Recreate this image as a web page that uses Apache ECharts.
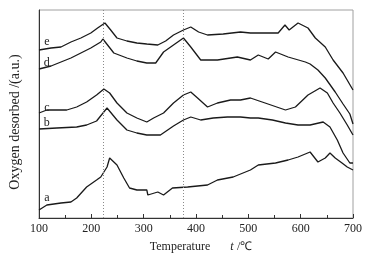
<!DOCTYPE html>
<html>
<head>
<meta charset="utf-8">
<script src="https://cdn.jsdelivr.net/npm/echarts@6/dist/echarts.min.js"></script>
<style>
  html, body { margin: 0; padding: 0; background: #fff; }
  #chart { width: 378px; height: 262px; }
</style>
</head>
<body>
<div id="chart"></div>
<script>
// temperature (℃) and signal (a.u.)
const tempE = [100, 123, 142, 161, 180, 199, 212, 226, 237, 249, 268, 287, 306, 327, 342, 357, 376, 390, 405, 422, 452, 485, 504, 532, 557, 570, 578, 595, 614, 628, 647, 662, 681, 700];
const valE = [168, 170, 171, 176, 180, 185, 190, 195, 188, 180, 177, 175, 174, 173, 177, 183, 188, 191, 186, 183, 184, 186, 185, 185, 185, 193, 188, 195, 190, 180, 171, 158, 145, 128];

const tempD = [100, 123, 142, 161, 180, 199, 218, 222, 243, 268, 287, 306, 323, 338, 357, 376, 390, 409, 441, 479, 504, 519, 538, 552, 576, 609, 618, 633, 647, 666, 681, 694, 700];
const valD = [149, 152, 156, 160, 165, 170, 176, 179, 165, 160, 157, 155, 155, 166, 173, 180, 171, 158, 158, 161, 158, 163, 159, 166, 161, 156, 154, 148, 140, 126, 114, 104, 94];

const tempC = [100, 115, 134, 153, 172, 191, 210, 224, 235, 249, 268, 287, 306, 319, 338, 357, 376, 390, 403, 422, 441, 466, 485, 504, 532, 571, 590, 614, 637, 651, 662, 675, 689, 700];
const valC = [105, 108, 108, 108, 111, 116, 123, 129, 125, 115, 105, 100, 96, 100, 105, 115, 123, 126, 120, 111, 115, 118, 118, 120, 115, 108, 111, 123, 130, 125, 115, 105, 93, 83];

const tempB = [100, 134, 172, 191, 210, 230, 249, 268, 287, 306, 332, 357, 376, 390, 409, 433, 460, 485, 504, 519, 546, 571, 595, 618, 643, 656, 670, 681, 694, 700];
const valB = [89, 90, 91, 93, 97, 110, 98, 88, 85, 83, 83, 92, 98, 101, 98, 100, 101, 101, 100, 100, 98, 95, 93, 93, 96, 91, 78, 65, 55, 55];

const tempA = [100, 115, 142, 161, 172, 191, 210, 218, 230, 235, 249, 262, 273, 287, 306, 308, 327, 338, 355, 384, 422, 441, 471, 504, 519, 552, 576, 595, 618, 633, 647, 656, 666, 679, 689, 700];
const valA = [8, 13, 15, 16, 20, 31, 38, 41, 51, 60, 53, 40, 30, 28, 28, 23, 26, 23, 30, 31, 33, 38, 41, 48, 53, 55, 58, 61, 66, 56, 60, 65, 60, 55, 51, 48];

const curveNames = ["a", "b", "c", "d", "e"];
const labelTemp = 115;
const labelVals = [20, 95, 110, 155, 176];
const peakLines = [222, 375];
const xTicks = [100, 200, 300, 400, 500, 600, 700];

const serif = '"Liberation Serif", "Times New Roman", serif';
const chart = echarts.init(document.getElementById("chart"));

const temps = [tempA, tempB, tempC, tempD, tempE];
const vals = [valA, valB, valC, valD, valE];

const series = curveNames.map((name, i) => ({
  name: name,
  type: "line",
  showSymbol: false,
  symbol: "none",
  animation: false,
  lineStyle: { color: "#1a1a1a", width: 1.3 },
  data: temps[i].map((t, k) => [t, vals[i][k]]),
  markPoint: {
    symbol: "circle",
    symbolSize: 1,
    itemStyle: { color: "transparent" },
    label: {
      show: true,
      position: "inside",
      formatter: name,
      color: "#222",
      fontFamily: serif,
      fontSize: 12,
    },
    data: [{ coord: [labelTemp, labelVals[i]] }],
  },
  markLine: i === 0 ? {
    silent: true,
    symbol: "none",
    label: { show: false },
    lineStyle: { color: "#8a8a8a", type: [1, 2], width: 1 },
    data: peakLines.map((t) => ({ xAxis: t })),
  } : undefined,
}));

const option = {
  animation: false,
  backgroundColor: "#fff",
  grid: {
    left: 38,
    right: 25,
    top: 10,
    bottom: 44,
    show: true,
    borderColor: "#a0a0a0",
    borderWidth: 1,
  },
  xAxis: {
    type: "value",
    min: 100,
    max: 700,
    interval: 100,
    name: "{n|Temperature}      {i|t} {n|/℃}",
    nameLocation: "middle",
    nameGap: 23,
    nameTextStyle: {
      padding: [0, 0, 0, 10],
      rich: {
        n: { fontFamily: serif, fontSize: 12, color: "#222" },
        i: { fontFamily: serif, fontSize: 12, color: "#222", fontStyle: "italic" },
      },
    },
    axisLine: { show: true, lineStyle: { color: "#333", width: 1 } },
    axisTick: { show: true, inside: true, length: 4, lineStyle: { color: "#333" } },
    minorTick: { show: true, splitNumber: 2, length: 3, lineStyle: { color: "#333" } },
    splitLine: { show: false },
    axisLabel: {
      fontFamily: serif,
      fontSize: 12,
      color: "#222",
      margin: 5,
      formatter: (v) => (xTicks.includes(v) ? String(v) : ""),
    },
  },
  yAxis: {
    type: "value",
    min: 0,
    max: 208,
    name: "Oxygen desorbed /(a.u.)",
    nameLocation: "middle",
    nameGap: 17,
    nameTextStyle: {
      fontFamily: serif,
      fontSize: 14,
      color: "#222",
      padding: [0, 16, 0, 0],
    },
    axisLine: { show: true, lineStyle: { color: "#333", width: 1 } },
    axisTick: { show: false },
    axisLabel: { show: false },
    splitLine: { show: false },
  },
  series: series,
};

chart.setOption(option);
</script>
</body>
</html>
